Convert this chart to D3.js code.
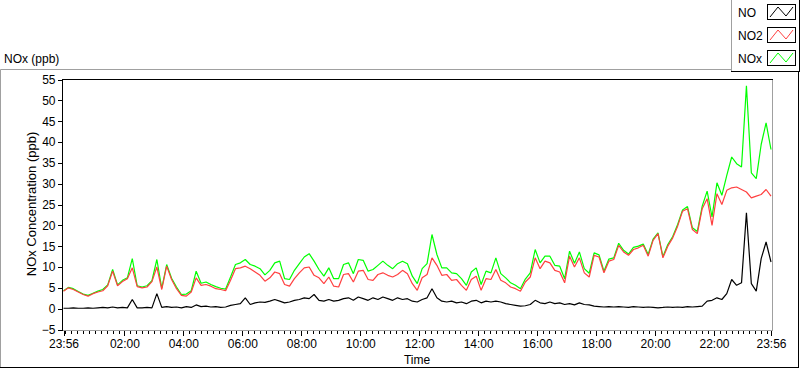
<!DOCTYPE html>
<html>
<head>
<meta charset="utf-8">
<script src="https://cdn.jsdelivr.net/npm/d3@7"></script>
<style>
  body { margin: 0; background: #fff; }
  svg { display: block; font-family: "Liberation Sans", Arial, sans-serif; }
</style>
</head>
<body>
<svg width="800" height="369"></svg>
<script>
// data: one sample every 10 min, starting 23:56 (minutes since start)
var step = 10
var seriesNames = ['NO', 'NO2', 'NOx']
var seriesColors = ['#000000', '#ff4040', '#00ff00']

var no = [0.1, 0.1, 0.2, 0.1, 0.1, 0.2, 0.1, 0.2, 0.3, 0.2,
  0.4, 0.2, 0.3, 0.2, 2.2, 0.2, 0.2, 0.3, 0.2, 3.6,
  0.3, 0.5, 0.3, 0.4, 0.2, 0.5, 0.3, 0.9, 0.5, 0.6,
  0.4, 0.5, 0.3, 0.4, 0.8, 1.0, 1.2, 2.6, 1.0, 1.4,
  1.6, 1.5, 1.8, 2.2, 1.8, 1.4, 1.6, 2.0, 2.2, 2.6,
  2.4, 3.4, 2.0, 1.8, 2.2, 1.8, 2.0, 2.4, 2.6, 2.0,
  2.8, 2.4, 2.0, 2.6, 2.2, 2.8, 2.4, 2.0, 2.6, 2.2,
  2.4, 1.8, 1.6, 2.2, 2.6, 4.8, 2.6, 1.8, 1.6, 1.8,
  1.4, 1.6, 1.2, 1.8, 2.0, 1.4, 1.8, 1.6, 1.8, 1.6,
  1.2, 1.0, 0.8, 0.6, 0.7, 1.0, 2.0, 1.4, 1.2, 1.6,
  1.2, 1.4, 1.0, 1.2, 0.9, 1.4, 1.0, 0.9, 0.6, 0.5,
  0.4, 0.5, 0.4, 0.5, 0.4, 0.3, 0.5, 0.4, 0.3, 0.4,
  0.3, 0.2, 0.3, 0.4, 0.3, 0.4, 0.3, 0.5, 0.4, 0.5,
  0.6, 1.8, 2.0, 2.6, 2.2, 3.6, 7.0, 5.6, 6.2, 23.0,
  6.0, 4.2, 12.0, 16.0, 11.2]

var no2 = [4.2, 5.0, 4.6, 4.0, 3.4, 3.0, 3.6, 4.0, 4.3, 5.5,
  9.0, 5.5, 6.5, 7.2, 9.8, 5.3, 5.0, 5.2, 6.5, 10.0,
  4.6, 10.2, 7.0, 4.8, 3.2, 3.0, 4.0, 7.4, 5.6, 5.8,
  5.4, 4.8, 4.6, 4.3, 6.8, 9.6, 9.8, 10.2, 9.6, 8.8,
  8.0, 6.6, 7.4, 8.8, 8.4, 5.8, 5.4, 7.2, 8.6, 9.8,
  10.0, 8.0, 7.4, 6.0, 7.6, 5.4, 5.2, 8.2, 8.4, 6.4,
  9.0, 9.2, 7.0, 6.8, 8.2, 8.6, 8.0, 7.6, 8.2, 9.2,
  8.4, 6.0, 4.4, 7.4, 8.2, 12.2, 10.4, 8.0, 8.2, 6.8,
  7.0, 5.6, 4.4, 7.0, 7.8, 4.4, 7.2, 7.0, 9.4, 6.8,
  6.2, 5.2, 4.8, 4.2, 6.4, 7.6, 12.2, 9.6, 11.4, 11.0,
  9.2, 8.8, 6.2, 12.6, 10.0, 12.2, 8.6, 7.6, 12.8, 12.4,
  8.6, 11.4, 11.8, 15.2, 13.6, 12.8, 14.2, 14.6, 15.2, 12.6,
  16.4, 18.0, 12.2, 15.0, 17.0, 19.8, 23.4, 24.0, 19.0, 18.0,
  24.0, 26.4, 20.0, 27.6, 25.0, 28.4, 29.0, 29.2, 28.6, 28.0,
  26.6, 27.0, 27.4, 28.6, 27.0]

var nox = [4.3, 5.1, 4.8, 4.1, 3.5, 3.2, 3.7, 4.2, 4.6, 5.7,
  9.4, 5.7, 6.8, 7.4, 12.0, 5.5, 5.2, 5.5, 6.7, 11.8,
  4.9, 10.6, 7.3, 5.2, 3.4, 3.5, 4.3, 9.0, 6.1, 6.4,
  5.8, 5.3, 4.9, 4.7, 7.6, 10.6, 11.0, 11.8, 10.6, 10.2,
  9.6, 8.1, 9.2, 11.0, 11.4, 7.2, 7.0, 9.2, 10.8, 12.4,
  13.2, 11.4, 9.4, 7.8, 9.8, 7.2, 7.2, 10.6, 11.0, 8.4,
  11.8, 11.6, 9.0, 9.4, 10.4, 11.4, 10.4, 9.6, 10.8, 11.4,
  10.8, 7.8, 6.0, 9.6, 10.8, 17.8, 13.0, 9.8, 9.8, 8.6,
  8.4, 7.2, 5.6, 8.8, 9.8, 5.8, 9.0, 8.6, 12.2, 8.4,
  7.4, 6.2, 5.6, 4.8, 7.1, 8.6, 14.2, 11.0, 12.6, 12.6,
  10.4, 10.2, 7.2, 13.8, 10.9, 13.6, 9.6, 8.5, 13.4, 12.9,
  9.0, 11.9, 12.2, 15.7, 14.0, 13.1, 14.7, 15.0, 15.5, 13.0,
  16.7, 18.2, 12.5, 15.4, 17.3, 20.2, 23.7, 24.5, 19.4, 18.5,
  24.6, 28.2, 22.0, 30.2, 27.2, 32.0, 36.4, 34.8, 34.0, 53.5,
  32.6, 31.2, 39.4, 44.6, 38.2]

// x ticks (minutes since 23:56)
var majorTicks = [0, 124, 244, 364, 484, 604, 724, 844, 964, 1084, 1204, 1324, 1440]
var majorLabels = ['23:56', '02:00', '04:00', '06:00', '08:00', '10:00', '12:00',
  '14:00', '16:00', '18:00', '20:00', '22:00', '23:56']
var yTicks = [-5, 0, 5, 10, 15, 20, 25, 30, 35, 40, 45, 50, 55]

var svg = d3.select('svg')

// plot box (note: "top" is taken by window.top, so prefix everything)
var plotLeft = 62, plotRight = 772, plotTop = 79, plotBottom = 330

var x = d3.scaleLinear().domain([0, 1440]).range([63.5, 771])
var y = d3.scaleLinear().domain([-5, 55]).range([329.5, 79.5])

// outer panel
svg.append('line').attr('x1', 0.5).attr('y1', 69.5).attr('x2', 731).attr('y2', 69.5).attr('stroke', '#a0a0a0')
svg.append('line').attr('x1', 0.5).attr('y1', 69.5).attr('x2', 0.5).attr('y2', 368).attr('stroke', '#a0a0a0')
svg.append('line').attr('x1', 0).attr('y1', 367.5).attr('x2', 799).attr('y2', 367.5).attr('stroke', '#000')
svg.append('line').attr('x1', 798.5).attr('y1', 72).attr('x2', 798.5).attr('y2', 368).attr('stroke', '#000')

svg.append('text')
  .attr('x', 4).attr('y', 63)
  .attr('font-size', 12)
  .text('NOx (ppb)')

// plot frame
svg.append('line').attr('x1', plotRight + 0.5).attr('y1', plotTop).attr('x2', plotRight + 0.5).attr('y2', plotBottom + 1).attr('stroke', '#a0a0a0')
svg.append('line').attr('x1', plotLeft).attr('y1', plotBottom + 0.5).attr('x2', plotRight + 1).attr('y2', plotBottom + 0.5).attr('stroke', '#a0a0a0')
svg.append('line').attr('x1', plotLeft).attr('y1', plotTop + 0.5).attr('x2', plotRight + 1).attr('y2', plotTop + 0.5).attr('stroke', '#000')
svg.append('line').attr('x1', plotLeft + 0.5).attr('y1', plotTop).attr('x2', plotLeft + 0.5).attr('y2', plotBottom + 1).attr('stroke', '#000')

// y axis
var yAxis = svg.append('g')
  .attr('transform', 'translate(' + (plotLeft + 0.5) + ',0)')
  .call(d3.axisLeft(y).tickValues(yTicks).tickSize(5).tickPadding(2))
yAxis.select('.domain').remove()
yAxis.selectAll('text').attr('font-size', 12).attr('font-family', null).attr('fill', '#000')

// x axis minor ticks every 12 min from 00:00
var minorTicks = []
for (var t = 4; t < 1440; t += 12) {
  if (majorTicks.indexOf(t) < 0) minorTicks.push(t)
}
var xMinor = svg.append('g')
  .attr('transform', 'translate(0,' + (plotBottom + 1) + ')')
  .call(d3.axisBottom(x).tickValues(minorTicks).tickSize(3).tickFormat(''))
xMinor.select('.domain').remove()

var xMajor = svg.append('g')
  .attr('transform', 'translate(0,' + (plotBottom + 1) + ')')
  .call(d3.axisBottom(x).tickValues(majorTicks).tickSize(5).tickPadding(3)
    .tickFormat(function(d, i) { return majorLabels[i] }))
xMajor.select('.domain').remove()
xMajor.selectAll('text').attr('font-size', 12).attr('font-family', null).attr('fill', '#000')
svg.selectAll('.tick line').attr('shape-rendering', 'crispEdges')

svg.append('text')
  .attr('x', 417).attr('y', 364)
  .attr('text-anchor', 'middle')
  .attr('font-size', 12)
  .text('Time')

svg.append('text')
  .attr('transform', 'translate(36,204) rotate(-90)')
  .attr('text-anchor', 'middle')
  .attr('font-size', 13)
  .text('NOx Concentration (ppb)')

// series, green first so red sits on top
var line = d3.line()
  .x(function(d, i) { return x(i * step) })
  .y(function(d) { return y(d) })

var plot = svg.append('g')
var drawOrder = [[nox, seriesColors[2]], [no2, seriesColors[1]], [no, seriesColors[0]]]
plot.selectAll('path')
  .data(drawOrder)
  .enter()
  .append('path')
  .attr('d', function(d) { return line(d[0]) })
  .attr('fill', 'none')
  .attr('stroke', function(d) { return d[1] })
  .attr('stroke-width', 1.2)
  .attr('stroke-linejoin', 'bevel')

// legend
var legend = svg.append('g')
legend.append('line').attr('x1', 731.5).attr('y1', 0).attr('x2', 731.5).attr('y2', 72).attr('stroke', '#a0a0a0')
legend.append('line').attr('x1', 731).attr('y1', 71.5).attr('x2', 799).attr('y2', 71.5).attr('stroke', '#000')
legend.append('line').attr('x1', 799.5).attr('y1', 0).attr('x2', 799.5).attr('y2', 72).attr('stroke', '#000')

var rows = legend.selectAll('.row')
  .data(seriesNames)
  .enter()
  .append('g')
  .attr('class', 'row')
  .attr('transform', function(d, i) { return 'translate(0,' + (i * 23) + ')' })

rows.append('text')
  .attr('x', 738).attr('y', 17)
  .attr('font-size', 12)
  .text(function(d) { return d })

rows.append('rect')
  .attr('x', 767.5).attr('y', 4.5)
  .attr('width', 28).attr('height', 15)
  .attr('fill', '#fff')
  .attr('stroke', '#000')

rows.append('polyline')
  .attr('points', '770,17 778,7 786,16 793,7')
  .attr('fill', 'none')
  .attr('stroke', function(d, i) { return seriesColors[i] })
</script>
</body>
</html>
